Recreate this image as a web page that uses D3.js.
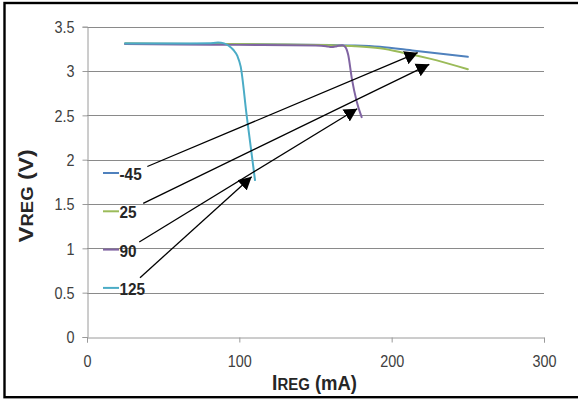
<!DOCTYPE html>
<html>
<head>
<meta charset="utf-8">
<script src="https://cdn.jsdelivr.net/npm/d3@7"></script>
<style>
  html, body { margin: 0; padding: 0; background: #fff; }
  svg { display: block; font-family: "Liberation Sans", Arial, sans-serif; }
</style>
</head>
<body>
<svg id="chart" width="578" height="399"></svg>
<script>
// Regulator output voltage versus load current at four temperatures (°C)
const seriesNames = ["-45", "25", "90", "125"];
const seriesColors = ["#4F81BD", "#9BBB59", "#8064A2", "#4BACC6"];

// Load current IREG (mA) and output voltage VREG (V)
const iNeg45 = [25, 75, 125, 160, 176, 192.3, 215, 250];
const vNeg45 = [3.31, 3.305, 3.30, 3.293, 3.288, 3.274, 3.229, 3.16];

const i25 = [25, 75, 125, 160, 176, 192.3, 207.6, 225, 250];
const v25 = [3.31, 3.305, 3.30, 3.29, 3.28, 3.256, 3.207, 3.14, 3.02];

const i90 = [25, 60, 100, 150, 157, 160.6, 164, 167.5, 169.4, 171.5, 173.8, 177, 180.3];
const v90 = [3.305, 3.30, 3.295, 3.288, 3.28, 3.27, 3.28, 3.29, 3.275, 3.18, 2.92, 2.66, 2.48];

const i125 = [25, 60, 80, 86, 90, 93, 96, 98.7, 100.9, 104.8, 110.3];
const v125 = [3.31, 3.31, 3.312, 3.322, 3.312, 3.285, 3.24, 3.17, 3.05, 2.5, 1.77];

const currents = [iNeg45, i25, i90, i125];
const voltages = [vNeg45, v25, v90, v125];

// Axis ticks
const xTicks = [0, 100, 200, 300];
const yTicks = [0, 0.5, 1, 1.5, 2, 2.5, 3, 3.5];

// Callout arrows from each legend label to its curve: [I, V] start and tip
const arrowStartI = [39.6, 36.9, 34.3, 34.8];
const arrowStartV = [1.923, 1.508, 1.072, 0.669];
const arrowTipI = [217.1, 224.7, 177.4, 108.1];
const arrowTipV = [3.207, 3.076, 2.575, 1.808];

const svg = d3.select("#chart");

// Outer frame
svg.append("rect")
  .attr("x", 4.5).attr("y", 3)
  .attr("width", 640).attr("height", 394.2)
  .attr("fill", "#fff").attr("stroke", "#000").attr("stroke-width", 2.4);

const x = d3.scaleLinear().domain([0, 300]).range([87, 544]);
const y = d3.scaleLinear().domain([0, 3.5]).range([337, 26.7]);

// Horizontal gridlines
svg.append("g").selectAll("line")
  .data(yTicks.filter(d => d > 0))
  .join("line")
  .attr("x1", x(0)).attr("x2", x(300))
  .attr("y1", d => Math.round(y(d)) + 0.5).attr("y2", d => Math.round(y(d)) + 0.5)
  .attr("stroke", "#8a8a8a").attr("stroke-width", 1);

// Axes
const xAxis = svg.append("g")
  .attr("transform", `translate(0,${Math.round(y(0)) + 0.5})`)
  .call(d3.axisBottom(x).tickValues(xTicks).tickSize(5).tickPadding(13).tickFormat(d3.format("d")));
const yAxis = svg.append("g")
  .attr("transform", `translate(${Math.round(x(0)) + 0.5},0)`)
  .call(d3.axisLeft(y).tickValues(yTicks).tickSize(5).tickPadding(8).tickFormat(d => String(d)));

[xAxis, yAxis].forEach(g => {
  g.select(".domain").attr("stroke", "#9a9a9a").attr("stroke-width", 1);
  g.selectAll(".tick line").attr("stroke", "#9a9a9a");
  g.selectAll(".tick text")
    .attr("fill", "#404040")
    .style("font-size", "16px")
    .style("font-family", "'Liberation Sans', Arial, sans-serif");
});
// Slightly narrow tick numerals
xAxis.selectAll(".tick text").attr("transform", "scale(0.9,1)");
yAxis.selectAll(".tick text")
  .attr("dy", "0.36em")
  .attr("x", -14.5)
  .attr("transform", "scale(0.9,1)");

// Curves
const line = d3.line()
  .x(d => x(d[0]))
  .y(d => y(d[1]))
  .curve(d3.curveMonotoneX);

const seriesData = seriesNames.map((name, k) => ({
  name,
  color: seriesColors[k],
  points: currents[k].map((c, j) => [c, voltages[k][j]])
}));

svg.append("g").selectAll("path")
  .data(seriesData)
  .join("path")
  .attr("d", d => line(d.points))
  .attr("fill", "none")
  .attr("stroke", d => d.color)
  .attr("stroke-width", 2)
  .attr("stroke-linejoin", "round")
  .attr("stroke-linecap", "round");

// Legend
const legend = svg.append("g").attr("transform", "translate(103,0)");
const legendRow = k => 180 + k * 38.3;
legend.selectAll("line")
  .data(seriesData)
  .join("line")
  .attr("x1", 0).attr("x2", 16)
  .attr("y1", (d, k) => legendRow(k) - 7).attr("y2", (d, k) => legendRow(k) - 7)
  .attr("stroke", d => d.color).attr("stroke-width", 2);
legend.selectAll("text")
  .data(seriesData)
  .join("text")
  .attr("transform", (d, k) => `translate(16.5,${legendRow(k)}) scale(0.93,1)`)
  .attr("fill", "#262626")
  .style("font-size", "16.5px").style("font-weight", "bold")
  .text(d => d.name);

// Arrow heads
svg.append("defs").append("marker")
  .attr("id", "head")
  .attr("markerUnits", "userSpaceOnUse")
  .attr("viewBox", "0 -8 14 16")
  .attr("refX", 13).attr("refY", 0)
  .attr("markerWidth", 14).attr("markerHeight", 16)
  .attr("orient", "auto")
  .append("path")
  .attr("d", "M0,-7L13,0L0,7Z")
  .attr("fill", "#000");

svg.append("g").selectAll("line")
  .data(arrowStartI.map((s, k) => k))
  .join("line")
  .attr("x1", k => x(arrowStartI[k])).attr("y1", k => y(arrowStartV[k]))
  .attr("x2", k => x(arrowTipI[k])).attr("y2", k => y(arrowTipV[k]))
  .attr("stroke", "#000").attr("stroke-width", 1.3)
  .attr("marker-end", "url(#head)");

// Axis titles with small-caps "REG"
const xTitle = svg.append("text")
  .attr("transform", "translate(272,390) scale(0.88,1)")
  .attr("fill", "#262626").style("font-weight", "bold");
xTitle.append("tspan").style("font-size", "22px").text("I");
xTitle.append("tspan").style("font-size", "17px").text("REG");
xTitle.append("tspan").style("font-size", "21px").text(" (mA)");

const yTitle = svg.append("text")
  .attr("transform", "translate(32.5,196) scale(0.88,1) rotate(-90)")
  .attr("text-anchor", "middle")
  .attr("fill", "#262626").style("font-weight", "bold");
yTitle.append("tspan").style("font-size", "24px").text("V");
yTitle.append("tspan").style("font-size", "18.5px").text("REG");
yTitle.append("tspan").style("font-size", "23px").text(" (V)");
</script>
</body>
</html>
